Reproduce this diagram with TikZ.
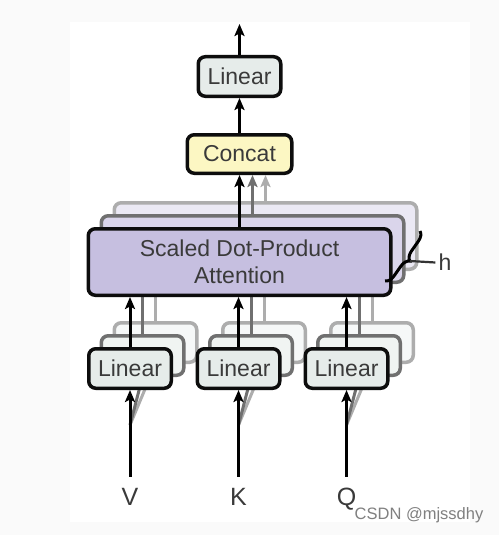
\documentclass[tikz,border=0pt]{standalone}
\usepackage{fontspec}
\setmainfont{Liberation Sans}
\definecolor{mylinear}{HTML}{E6ECEA}
\definecolor{myconcat}{HTML}{FCF7C3}
\definecolor{myattn}{HTML}{C6BFE0}
\definecolor{mytext}{HTML}{3A3A3A}
\definecolor{mygraydark}{HTML}{707070}
\definecolor{mygraylight}{HTML}{ADADAD}
\usepackage{tikz}
\usetikzlibrary{
  positioning, arrows.meta, decorations.pathreplacing, calc
}
\tikzset{
	boxnode/.style={
			rectangle,
			rounded corners=7pt,
			draw=black!95,
			line width=3.5pt,
			text=mytext,
			font=\fontsize{23}{27}\selectfont,
			align=center,
			inner sep=0pt
		},
	linearnode/.style={
			boxnode,
			fill=mylinear,
			minimum width=82.5pt,
			minimum height=39.5pt
		},
	lineartwo/.style={
			linearnode,
			draw=mygraydark,
			fill=mylinear!60
		},
	linearthree/.style={
			linearnode,
			draw=mygraylight,
			fill=mylinear!35
		},
	concatnode/.style={
			boxnode,
			fill=myconcat,
			minimum width=104.5pt,
			minimum height=38.5pt
		},
	attnnode/.style={
			boxnode,
			fill=myattn,
			minimum width=302.5pt,
			minimum height=66.5pt
		},
	attntwo/.style={
			attnnode,
			draw=mygraydark,
			fill=myattn!65
		},
	attnthree/.style={
			attnnode,
			draw=mygraylight,
			fill=myattn!35
		},
	inputnode/.style={
			text=mytext,
			font=\fontsize{25}{30}\selectfont,
			text height=18pt,
			text depth=1pt,
			inner sep=0pt,
			outer ysep=11pt
		},
	arrowline/.style={
			line width=3pt,
			-{Stealth[length=12pt, width=10pt, inset=2.5pt]}
		},
	fanline/.style={
			line width=3pt
		}
}

\begin{document}
\begin{tikzpicture}[x=1pt, y=-1pt]
\fill[black!2] (0,0) rectangle (499,535);
\fill[white] (70,22) rectangle (470,522);
\useasboundingbox (0,0) rectangle (499,535);

% attention heads behind
\node[attnthree] (att3) at (265.5,236) {};
\node[attntwo] (att2) at (252.5,249) {};

% inputs
\node[inputnode] (vin) at (130,497) {V};
\node[inputnode] (kin) at (238.5,497) {K};
\node[inputnode] (qin) at (346.5,497) {Q};
\coordinate (vfan) at (130,425);
\coordinate (kfan) at (238.5,425);
\coordinate (qfan) at (346.5,425);

% linear layers, back to front
\node[linearthree] (lv3) at (155.5,342.5) {};
\node[linearthree] (lk3) at (264,342.5) {};
\node[linearthree] (lq3) at (372,342.5) {};
\draw[fanline, mygraylight] (vfan) -- (lv3.south);
\draw[fanline, mygraylight] (kfan) -- (lk3.south);
\draw[fanline, mygraylight] (qfan) -- (lq3.south);

\node[lineartwo] (lv2) at (142.5,355.5) {};
\node[lineartwo] (lk2) at (251,355.5) {};
\node[lineartwo] (lq2) at (359,355.5) {};
\draw[fanline, mygraydark] (vfan) -- (lv2.south);
\draw[fanline, mygraydark] (kfan) -- (lk2.south);
\draw[fanline, mygraydark] (qfan) -- (lq2.south);

\node[linearnode] (lv1) at (130,368.5) {Linear};
\node[linearnode] (lk1) at (238.5,368.5) {Linear};
\node[linearnode] (lq1) at (346.5,368.5) {Linear};
\draw[arrowline] (vin) -- (lv1);
\draw[arrowline] (kin) -- (lk1);
\draw[arrowline] (qin) -- (lq1);

% linear heads into attention
\draw[fanline, mygraylight] (lv3.north) -- (lv3.north |- 0,297);
\draw[fanline, mygraylight] (lk3.north) -- (lk3.north |- 0,297);
\draw[fanline, mygraylight] (lq3.north) -- (lq3.north |- 0,297);
\draw[fanline, mygraydark] (lv2.north) -- (lv2.north |- 0,297);
\draw[fanline, mygraydark] (lk2.north) -- (lk2.north |- 0,297);
\draw[fanline, mygraydark] (lq2.north) -- (lq2.north |- 0,297);

\node[attnnode] (att1) at (239.5,262) {Scaled Dot-Product\\Attention};

\draw[arrowline] (lv1) -- (lv1 |- att1.south);
\draw[arrowline] (lk1) -- (lk1 |- att1.south);
\draw[arrowline] (lq1) -- (lq1 |- att1.south);

% output side
\node[concatnode] (cat) at (239.5,154) {Concat};
\node[linearnode] (lout) at (239.5,76.5) {Linear};
\coordinate (out) at (239.5,24);

\draw[arrowline, mygraylight] (att3.north) -- (att3.north |- cat.south);
\draw[arrowline, mygraydark] (att2.north) -- (att2.north |- cat.south);
\draw[arrowline] (att1) -- (cat);
\draw[arrowline] (cat) -- (lout);
\draw[arrowline] (lout) -- (out);

% h heads
\coordinate (htop) at (420,231);
\coordinate (hbot) at (385,281);
\coordinate (htip) at (410,261);
\node[text=mytext, font=\fontsize{23}{27}\selectfont, inner sep=3pt] (hlab) at (445,262.5) {h};
\draw[line width=3pt, decorate, decoration={brace, amplitude=9pt, raise=0pt}] (htop) -- (hbot);
\draw[line width=2.2pt, black!80] (htip) -- (hlab.west);

\node[text=black!50, font=\fontsize{16.5}{20}\selectfont] (mark) at (419,515) {CSDN @mjssdhy};

\end{tikzpicture}
\end{document}
